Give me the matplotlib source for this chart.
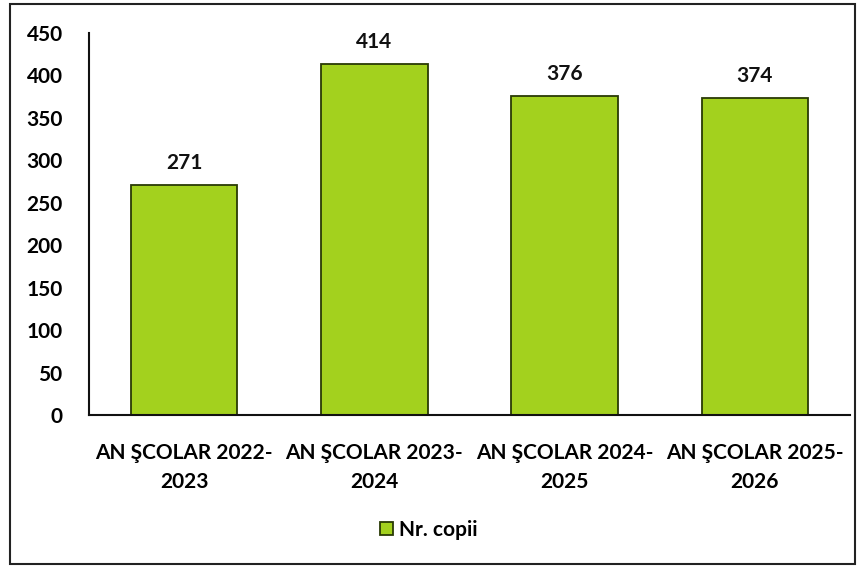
import matplotlib.pyplot as plt
from matplotlib.patches import Rectangle

categories = ["AN ŞCOLAR 2022-\n2023", "AN ŞCOLAR 2023-\n2024", "AN ŞCOLAR 2024-\n2025", "AN ŞCOLAR 2025-\n2026"]
values = [271, 414, 376, 374]
series_name = "Nr. copii"

plt.rcParams["font.family"] = ["Lato", "DejaVu Sans"]
plt.rcParams["font.weight"] = "bold"

fig = plt.figure(figsize=(8.58, 5.68), dpi=100)
ax = fig.add_axes([89 / 858, 1 - 415 / 568, 761 / 858, 382 / 568])

x = range(len(categories))
bars = ax.bar(x, values, width=0.56, color="#A3D11E", edgecolor="#2a3a05",
              linewidth=1.3, label=series_name)
for b, v in zip(bars, values):
    ax.text(b.get_x() + b.get_width() / 2, v + 14, str(v), ha="center", va="bottom",
            fontsize=15, fontweight="bold", color="#111111")

ax.set_xlim(-0.5, len(categories) - 0.5)
ax.set_ylim(0, 450)
ax.set_yticks(range(0, 451, 50))
ax.set_xticks(list(x))
ax.set_xticklabels(categories, fontsize=15, fontweight="bold", linespacing=1.55)
ax.tick_params(axis="y", labelsize=15, length=0, pad=19)
ax.tick_params(axis="x", length=0, pad=20)
for s in ("top", "right"):
    ax.spines[s].set_visible(False)
for s in ("left", "bottom"):
    ax.spines[s].set_linewidth(1.5)
    ax.spines[s].set_color("#111111")

fig.legend(handles=[bars], labels=[series_name], loc="center", bbox_to_anchor=(0.5, 1 - 530 / 568),
           frameon=False, fontsize=15, handlelength=0.6, handleheight=0.6, handletextpad=0.3)

fig.patches.append(Rectangle((10 / 858, 4 / 568), 845 / 858, 560 / 568, transform=fig.transFigure,
                             fill=False, edgecolor="#222222", linewidth=1.5))

fig.savefig("out.png", dpi=100)
